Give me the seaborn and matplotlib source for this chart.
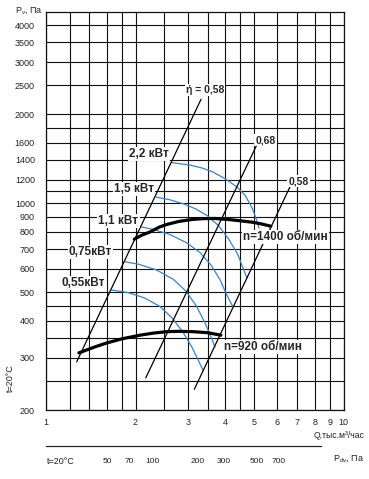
import matplotlib
matplotlib.use('Agg')
import matplotlib.pyplot as plt
import seaborn as sns
from matplotlib.ticker import FixedLocator, FixedFormatter, NullLocator

# Значения (Q в тыс. м3/час, P в Па)
q_1400 = [1.98, 2.10, 2.24, 2.40, 2.55, 2.80, 3.12, 3.40, 3.70, 4.15, 4.50, 4.96, 5.30, 5.70]
p_1400 = [756, 780, 800, 830, 848, 868, 882, 887, 888, 880, 872, 862, 851, 836]

q_920 = [1.29, 1.45, 1.60, 1.80, 2.07, 2.30, 2.55, 2.80, 3.12, 3.50, 3.87]
p_920 = [312, 326, 337, 348, 358, 364, 368, 369, 368, 365, 358]

q_22 = [2.64, 3.05, 3.35, 3.64, 4.00, 4.39, 4.68, 4.93, 5.08, 5.20]
p_22 = [1372, 1346, 1315, 1275, 1210, 1134, 1060, 963, 890, 824]
q_15 = [2.34, 2.60, 2.90, 3.20, 3.50, 3.80, 4.10, 4.40, 4.74]
p_15 = [1049, 1028, 995, 955, 905, 840, 760, 675, 558]
q_11 = [2.08, 2.30, 2.60, 2.97, 3.30, 3.60, 3.85, 4.05, 4.25]
p_11 = [833, 815, 785, 735, 680, 615, 550, 490, 446]
q_075 = [1.84, 2.05, 2.35, 2.68, 2.95, 3.20, 3.42, 3.60, 3.70]
p_075 = [634, 622, 595, 553, 505, 450, 395, 350, 326]
q_055 = [1.66, 1.90, 2.15, 2.42, 2.65, 2.88, 3.10, 3.37]
p_055 = [509, 498, 478, 447, 410, 368, 325, 273]

# линии КПД
q_eta_left = [1.268, 3.319]
p_eta_left = [291, 2244]
q_eta_mid = [2.165, 5.10]
p_eta_mid = [257, 1567]
q_eta_right = [3.152, 6.61]
p_eta_right = [235, 1137]

x_grid = [1, 1.2, 1.4, 1.6, 1.8, 2, 2.5, 3, 3.5, 4, 4.5, 5, 6, 7, 8, 9, 10]
x_labels = ['1', '', '', '', '', '2', '', '3', '', '4', '', '5', '6', '7', '8', '9', '10']
y_grid = [200, 250, 300, 350, 400, 450, 500, 600, 700, 800, 900, 1000, 1100,
          1200, 1400, 1600, 1800, 2000, 2500, 3000, 3500, 4000]
y_labels = ['200', '', '300', '', '400', '', '500', '600', '700', '800', '900', '1000', '',
            '1200', '1400', '1600', '', '2000', '2500', '3000', '3500', '4000']
pdv_ticks = [50, 70, 100, 150, 200, 300, 500, 700]
pdv_labels = ['50', '70', '100', '', '200', '300', '500', '700']

sns.set_style('white')
plt.rcParams['font.family'] = ['Liberation Sans', 'DejaVu Sans']

W, H = 369, 479
fig = plt.figure(figsize=(W / 100, H / 100), dpi=100)
ax = fig.add_axes([46 / W, 1 - 410 / H, 297.5 / W, 398.3 / H])
ax.set_xscale('log')
ax.set_yscale('log')
ax.set_xlim(1, 10)
ax.set_ylim(200, 4440)

ax.xaxis.set_major_locator(FixedLocator(x_grid))
ax.xaxis.set_major_formatter(FixedFormatter(x_labels))
ax.xaxis.set_minor_locator(NullLocator())
ax.yaxis.set_major_locator(FixedLocator(y_grid))
ax.yaxis.set_major_formatter(FixedFormatter(y_labels))
ax.yaxis.set_minor_locator(NullLocator())
ax.tick_params(axis='both', which='major', direction='out', length=3, width=0.8,
               color='#222222', labelsize=6.5, labelcolor='#222222')
ax.tick_params(axis='y', pad=5)
ax.tick_params(axis='x', pad=3)
ax.grid(True, which='major', color='#111111', linewidth=0.8)
for s in ax.spines.values():
    s.set_color('#111111')
    s.set_linewidth(0.9)

blue = '#3a84c8'
for q, p in [(q_22, p_22), (q_15, p_15), (q_11, p_11), (q_075, p_075), (q_055, p_055)]:
    sns.lineplot(x=q, y=p, ax=ax, color=blue, linewidth=0.9, sort=False, zorder=3)

for q, p in [(q_eta_left, p_eta_left), (q_eta_mid, p_eta_mid), (q_eta_right, p_eta_right)]:
    sns.lineplot(x=q, y=p, ax=ax, color='black', linewidth=0.9, sort=False, zorder=4)

for q, p in [(q_1400, p_1400), (q_920, p_920)]:
    sns.lineplot(x=q, y=p, ax=ax, color='black', linewidth=2.3, sort=False, zorder=5)

box = dict(facecolor='white', edgecolor='none', pad=0.8)
labels = [
    ('ή = 0,58', 3.42, 2412, 7.5),
    ('0,68', 5.47, 1635, 7.5),
    ('0,58', 7.06, 1188, 7.5),
    ('2,2 кВт', 2.22, 1466, 8.5),
    ('1,5 кВт', 1.976, 1116, 8.5),
    ('1,1 кВт', 1.753, 870, 8.5),
    ('0,75кВт', 1.411, 686, 8.5),
    ('0,55кВт', 1.337, 537, 8.5),
    ('n=1400 об/мин', 6.38, 768, 8.5),
    ('n=920 об/мин', 5.36, 327, 8.5),
]
for txt, qx, py, fs in labels:
    ax.text(qx, py, txt, fontsize=fs, fontweight='bold', ha='center', va='center',
            bbox=box, zorder=10)

# шкала динамического давления
k = 19.2
ax2 = fig.add_axes([46 / W, 1 - 446 / H, 297.5 / W, 0.0001])
ax2.set_xscale('log')
ax2.set_xlim(k * 1, k * 100)
ax2.patch.set_visible(False)
for side in ['top', 'left', 'right']:
    ax2.spines[side].set_visible(False)
ax2.spines['bottom'].set_bounds(k, k * 8.4 ** 2)
ax2.spines['bottom'].set_linewidth(0.9)
ax2.set_yticks([])
ax2.xaxis.set_major_locator(FixedLocator(pdv_ticks))
ax2.xaxis.set_major_formatter(FixedFormatter(pdv_labels))
ax2.xaxis.set_minor_locator(NullLocator())
ax2.tick_params(axis='x', direction='out', length=2.5, width=0.8, labelsize=6,
                labelcolor='#222222', pad=6)

fig.text(15 / W, 1 - 10 / H, 'P$_{\\mathregular{v}}$, Па', fontsize=6.5, ha='left', va='center', color='#222222')
fig.text(10 / W, 1 - 378 / H, 't=20°C', fontsize=6.5, rotation=90, ha='center', va='center', color='#222222')
fig.text(47 / W, 1 - 461 / H, 't=20°C', fontsize=6.5, ha='left', va='center', color='#222222')
fig.text(364 / W, 1 - 459 / H, 'P$_{\\mathregular{dv}}$, Па', fontsize=6.5, ha='right', va='center', color='#222222')
fig.text(364 / W, 1 - 435 / H, 'Q,тыс.м³/час', fontsize=6.2, ha='right', va='center', color='#222222')

plt.savefig('out.png', dpi=100)
plt.close()
